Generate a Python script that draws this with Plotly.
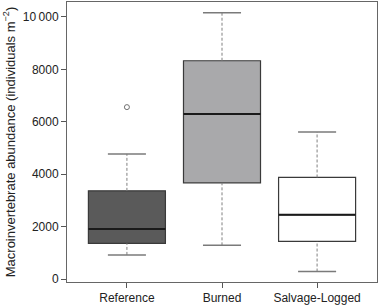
import plotly.graph_objects as go

categories = ["Reference", "Burned", "Salvage-Logged"]
q1 = [1360, 3670, 1440]
median = [1905, 6300, 2450]
q3 = [3365, 8330, 3875]
lower_whisker = [920, 1285, 285]
upper_whisker = [4775, 10160, 5610]
outlier_cat = [0]
outlier_val = [6560]
fills = ["#5a5a5a", "#a9a9ab", "#ffffff"]

y_ticks = [0, 2000, 4000, 6000, 8000, 10000]
y_ticktext = ["0", "2000", "4000", "6000", "8000", "10\u2009000"]

BOX_W = 0.81
CAP_HALF = 0.2
FONT = "Liberation Sans, Arial, Helvetica, sans-serif"

fig = go.Figure()
xs = list(range(len(categories)))

# dashed whiskers
for i in xs:
    fig.add_trace(go.Scatter(x=[i, i], y=[q3[i], upper_whisker[i]], mode="lines",
                             line=dict(color="#808080", width=1, dash="3px,2px"),
                             hoverinfo="skip", showlegend=False))
    fig.add_trace(go.Scatter(x=[i, i], y=[lower_whisker[i], q1[i]], mode="lines",
                             line=dict(color="#808080", width=1, dash="3px,2px"),
                             hoverinfo="skip", showlegend=False))
    for v in (upper_whisker[i], lower_whisker[i]):
        fig.add_trace(go.Scatter(x=[i - CAP_HALF, i + CAP_HALF], y=[v, v], mode="lines",
                                 line=dict(color="#7a7a7a", width=1.5),
                                 hoverinfo="skip", showlegend=False))

# boxes
for i in xs:
    fig.add_trace(go.Box(x=[i], q1=[q1[i]], median=[median[i]], q3=[q3[i]],
                         lowerfence=[q1[i]], upperfence=[q3[i]],
                         width=BOX_W, whiskerwidth=0,
                         fillcolor=fills[i], line=dict(color="#3a3a3a", width=1.2),
                         boxpoints=False, showlegend=False, name=categories[i]))

# medians (thicker)
for i in xs:
    fig.add_trace(go.Scatter(x=[i - BOX_W / 2, i + BOX_W / 2], y=[median[i], median[i]],
                             mode="lines", line=dict(color="#1a1a1a", width=2),
                             hoverinfo="skip", showlegend=False))

# outliers
fig.add_trace(go.Scatter(x=outlier_cat, y=outlier_val, mode="markers",
                         marker=dict(symbol="circle-open", size=5, color="#707070",
                                     line=dict(width=1)),
                         showlegend=False))

fig.update_layout(
    width=380, height=306,
    margin=dict(l=67, r=3, t=2, b=24),
    paper_bgcolor="white", plot_bgcolor="white",
    font=dict(family=FONT, size=12, color="#222"),
)
fig.update_xaxes(range=[-0.63, 2.63], tickvals=xs, ticktext=categories, automargin=False,
                 showgrid=False, zeroline=False, showline=True, linecolor="#666",
                 linewidth=1, mirror=True, ticks="outside", ticklen=5, tickcolor="#555",
                 tickfont=dict(size=12, family=FONT, color="#222"))
fig.update_yaxes(range=[-114, 10571], tickvals=y_ticks, ticktext=y_ticktext, automargin=False,
                 showgrid=False, zeroline=False, showline=True, linecolor="#666",
                 linewidth=1, mirror=True, ticks="outside", ticklen=5, tickcolor="#555",
                 tickfont=dict(size=12, family=FONT, color="#222"),
                 title=dict(text="Macroinvertebrate abundance (individuals m<sup>\u22122</sup>)",
                            font=dict(size=13, family=FONT, color="#222"), standoff=4))

fig.write_html("out.html", config={"displayModeBar": False},
               post_script="document.body.style.margin='0px';")
